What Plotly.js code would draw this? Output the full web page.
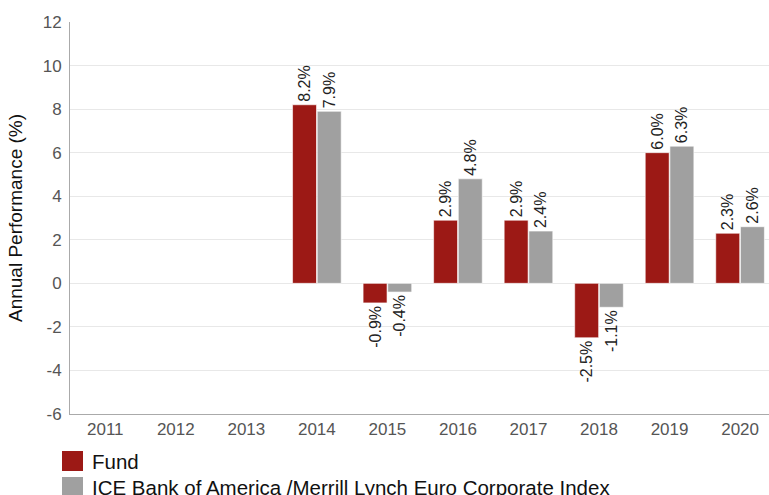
<!DOCTYPE html>
<html>
<head>
<meta charset="utf-8">
<script src="https://cdn.plot.ly/plotly-3.0.1.min.js"></script>
<style>
html,body{margin:0;padding:0;overflow:hidden;background:#fff;}
#chart{width:769px;height:495px;}
</style>
</head>
<body>
<div id="chart"></div>
<script>
var years = ["2011","2012","2013","2014","2015","2016","2017","2018","2019","2020"];
var fundValues = [null, null, null, 8.2, -0.9, 2.9, 2.9, -2.5, 6.0, 2.3];
var indexValues = [null, null, null, 7.9, -0.4, 4.8, 2.4, -1.1, 6.3, 2.6];
var seriesNames = ["Fund", "ICE Bank of America /Merrill Lynch Euro Corporate Index"];
var seriesColors = ["#9c1915", "#a0a0a0"];
var yTickValues = [-6, -4, -2, 0, 2, 4, 6, 8, 10, 12];
var yTickLabels = ["-6", "-4", "-2", "0", "2", "4", "6", "8", "10", "12"];

function labels(vals){
  return vals.map(function(v){ return v === null ? "" : v.toFixed(1) + "%"; });
}

var traces = [fundValues, indexValues].map(function(vals, i){
  return {
    type: "bar",
    name: seriesNames[i],
    x: years,
    y: vals,
    text: labels(vals),
    textposition: "outside",
    textangle: -90,
    constraintext: "none",
    cliponaxis: false,
    textfont: {family: "Liberation Sans, Arial, sans-serif", size: 16, color: "#222"},
    marker: {color: seriesColors[i], line: {color: "rgba(255,255,255,0.6)", width: 1}},
    showlegend: false,
    hoverinfo: "none"
  };
});

var shapes = [];
var annotations = [];
seriesNames.forEach(function(n, i){
  var yc = 461 + i * 26;
  shapes.push({type: "rect", xref: "paper", yref: "paper",
    x0: (62 - 70) / 699, x1: (83 - 70) / 699,
    y0: (414 - (yc - 10)) / 392, y1: (414 - (yc + 10)) / 392,
    fillcolor: seriesColors[i], line: {width: 0}});
  annotations.push({xref: "paper", yref: "paper", x: (90 - 70) / 699, y: (414 - yc) / 392,
    xanchor: "left", yanchor: "middle", text: n, showarrow: false,
    font: {family: "Liberation Sans, Arial, sans-serif", size: 20.5, color: "#111"}});
});

var layout = {
  width: 769, height: 495,
  margin: {l: 70, r: 0, t: 22, b: 81},
  paper_bgcolor: "#fff", plot_bgcolor: "#fff",
  barmode: "group", bargap: 0.3, bargroupgap: 0.03,
  font: {family: "Liberation Sans, Arial, sans-serif", size: 17, color: "#555"},
  xaxis: {type: "category", range: [-0.5, 9.41], showline: true, linecolor: "#aaa", linewidth: 1,
    ticks: "", tickfont: {size: 17, color: "#555"}, showgrid: false, fixedrange: true},
  yaxis: {range: [-6, 12], tickmode: "array", tickvals: yTickValues, ticktext: yTickLabels,
    showline: true, linecolor: "#aaa", linewidth: 1,
    gridcolor: "#e8e8e8", zeroline: true, zerolinecolor: "#e8e8e8", zerolinewidth: 1,
    ticks: "", ticklabelstandoff: 4, tickfont: {size: 17, color: "#555"},
    title: {text: "Annual Performance (%)", font: {size: 19, color: "#111"}, standoff: 15}},
  shapes: shapes,
  annotations: annotations
};

Plotly.newPlot("chart", traces, layout, {displayModeBar: false, staticPlot: true});
</script>
</body>
</html>
